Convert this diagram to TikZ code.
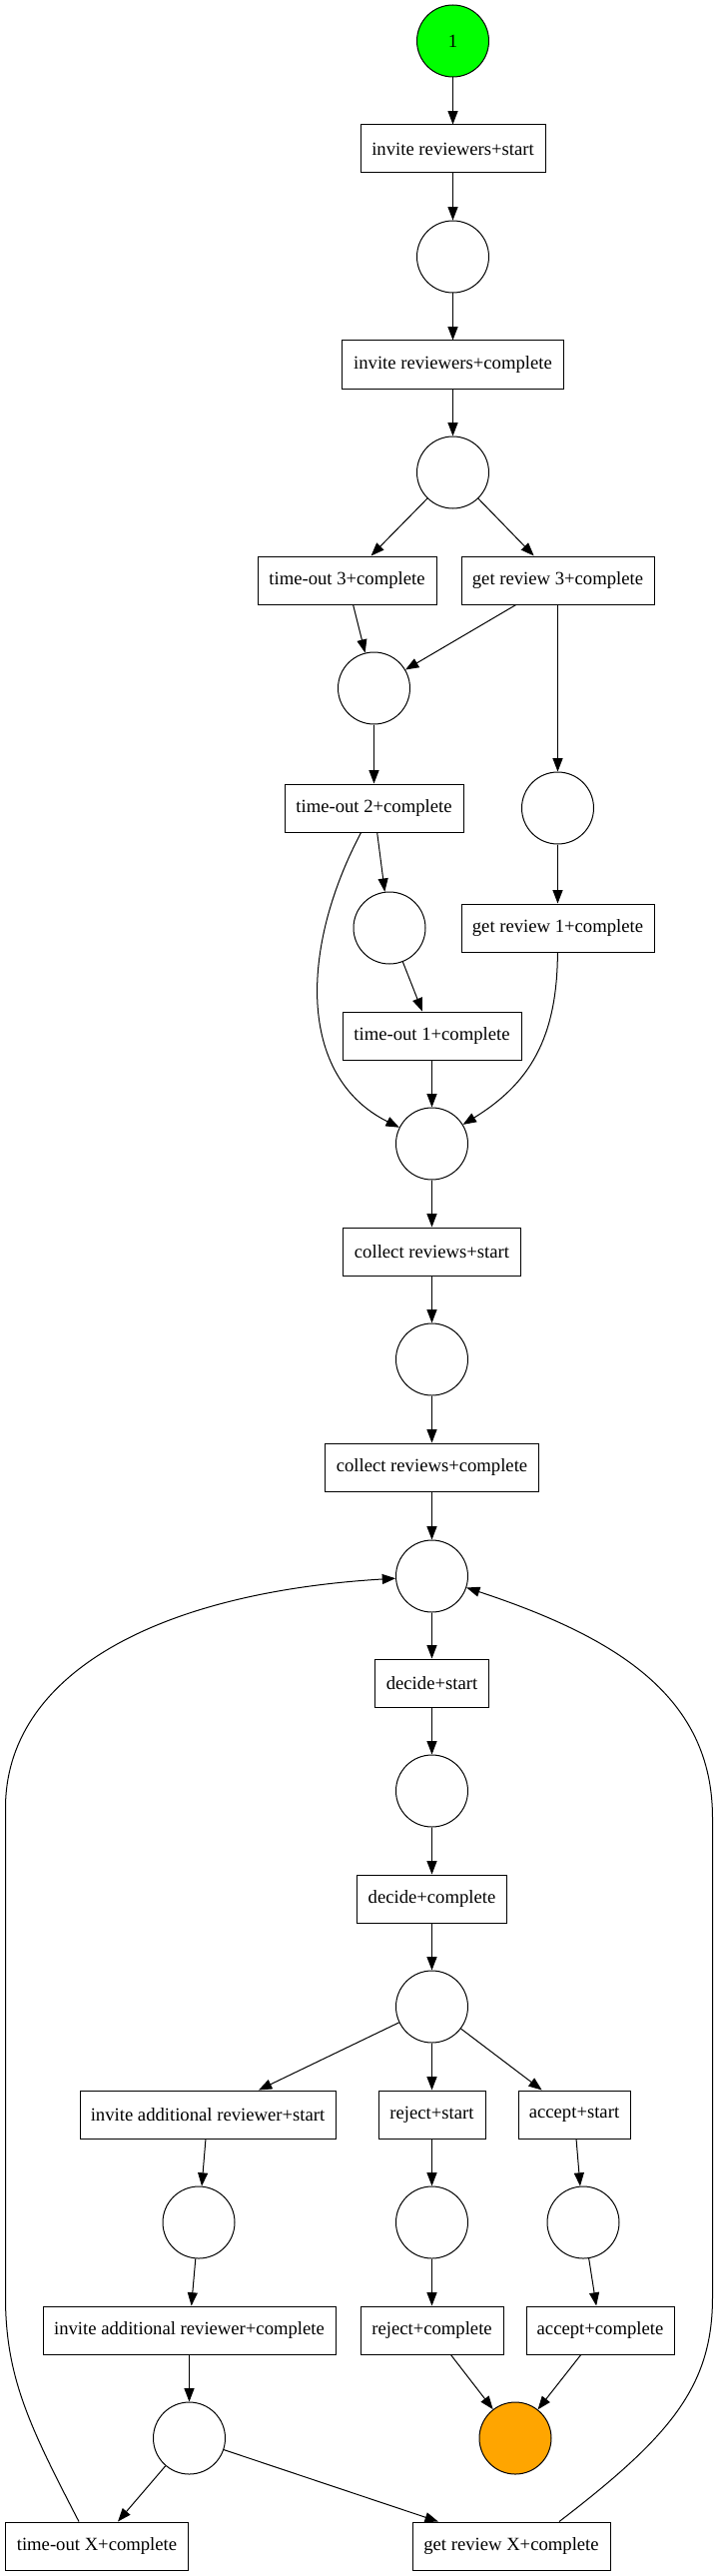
\documentclass[tikz,border=0pt]{standalone}
\usepackage{fontspec}
\setmainfont{Liberation Serif}
\usetikzlibrary{arrows.meta}
\definecolor{startgreen}{RGB}{0,255,0}
\definecolor{endorange}{RGB}{255,165,0}
\begin{document}
\begin{tikzpicture}[x=0.75pt,y=-0.75pt,
  place/.style={circle,draw,line width=0.75pt,minimum size=54pt,inner sep=0pt,fill=white,font=\fontsize{14pt}{16pt}\selectfont},
  trans/.style={rectangle,draw,line width=0.75pt,minimum height=36pt,inner sep=0pt,fill=white,font=\fontsize{14pt}{16pt}\selectfont},
  bw/.style={minimum width=#1*0.75pt},
  arc/.style={-{Triangle[length=10pt,width=7.5pt]},line width=0.75pt}]
\useasboundingbox (0,0) rectangle (719,2579);
\fill[white] (0,0) rectangle (719,2579);

% nodes
\node[place,fill=startgreen] (S) at (453.5,41) {1};
\node[trans,bw=185] (T1) at (453.5,149) {invite reviewers+start};
\node[place] (P2) at (453.5,257) {};
\node[trans,bw=222] (T2) at (453.5,365) {invite reviewers+complete};
\node[place] (P3) at (453.5,473) {};
\node[trans,bw=179] (T3) at (347.5,581) {time-out 3+complete};
\node[trans,bw=193] (T4) at (558.5,581) {get review 3+complete};
\node[place] (P4) at (374.5,689) {};
\node[trans,bw=179] (T5) at (374.5,809) {time-out 2+complete};
\node[place] (P5) at (558.5,809) {};
\node[place] (P6) at (390,929) {};
\node[trans,bw=193] (T6) at (558.5,929) {get review 1+complete};
\node[trans,bw=179] (T7) at (432.5,1037) {time-out 1+complete};
\node[place] (P7) at (432.5,1145) {};
\node[trans,bw=178] (T8) at (432.5,1253) {collect reviews+start};
\node[place] (P8) at (432.5,1361) {};
\node[trans,bw=214] (T9) at (432.5,1469) {collect reviews+complete};
\node[place] (P9) at (432.5,1578) {};
\node[trans,bw=114] (T10) at (432.5,1685) {decide+start};
\node[place] (P10) at (432.5,1793) {};
\node[trans,bw=150] (T11) at (432.5,1901) {decide+complete};
\node[place] (P11) at (432.5,2009) {};
\node[trans,bw=256] (T12) at (208,2117) {invite additional reviewer+start};
\node[trans,bw=107] (T13) at (432.5,2117) {reject+start};
\node[trans,bw=112] (T14) at (575,2117) {accept+start};
\node[place] (P12) at (199,2225) {};
\node[place] (P13) at (432.5,2225) {};
\node[place] (P14) at (584,2225) {};
\node[trans,bw=293] (T15) at (189.5,2333) {invite additional reviewer+complete};
\node[trans,bw=143] (T16) at (432.5,2333) {reject+complete};
\node[trans,bw=148] (T17) at (601,2333) {accept+complete};
\node[place] (P15) at (189.5,2441) {};
\node[place,fill=endorange] (E) at (516,2441) {};
\node[trans,bw=183] (T18) at (97,2549) {time-out X+complete};
\node[trans,bw=198] (T19) at (512,2549) {get review X+complete};

% straight arcs
\draw[arc] (S) -- (T1);
\draw[arc] (T1) -- (P2);
\draw[arc] (P2) -- (T2);
\draw[arc] (T2) -- (P3);
\draw[arc] (P3) -- (T3);
\draw[arc] (P3) -- (T4);
\draw[arc] (T3) -- (P4);
\draw[arc] (T4) -- (P4);
\draw[arc] (T4) -- (P5);
\draw[arc] (P4) -- (T5);
\draw[arc] (T5) -- (P6);
\draw[arc] (P5) -- (T6);
\draw[arc] (P6) -- (T7);
\draw[arc] (T7) -- (P7);
\draw[arc] (P7) -- (T8);
\draw[arc] (T8) -- (P8);
\draw[arc] (P8) -- (T9);
\draw[arc] (T9) -- (P9);
\draw[arc] (P9) -- (T10);
\draw[arc] (T10) -- (P10);
\draw[arc] (P10) -- (T11);
\draw[arc] (T11) -- (P11);
\draw[arc] (P11) -- (T12);
\draw[arc] (P11) -- (T13);
\draw[arc] (P11) -- (T14);
\draw[arc] (T12) -- (P12);
\draw[arc] (T13) -- (P13);
\draw[arc] (T14) -- (P14);
\draw[arc] (P12) -- (T15);
\draw[arc] (P13) -- (T16);
\draw[arc] (P14) -- (T17);
\draw[arc] (T15) -- (P15);
\draw[arc] (T16) -- (E);
\draw[arc] (T17) -- (E);
\draw[arc] (P15) -- (T18);
\draw[arc] (P15) -- (T19);

% curved arcs
\draw[arc] (T5) .. controls (300,950) and (298,1078) .. (P7);
\draw[arc] (T6) .. controls (558,1040) and (530,1085) .. (P7);
\draw[arc] ([xshift=-13.5pt]T18.north) .. controls (30,2430) and (5.5,2380) .. (5.5,2300)
   -- (5.5,1810) .. controls (5.5,1680) and (150,1595) .. (P9);
\draw[arc] ([xshift=36pt]T19.north) .. controls (670,2440) and (713.5,2390) .. (713.5,2300)
   -- (713.5,1820) .. controls (713.5,1700) and (620,1640) .. (P9);
\end{tikzpicture}
\end{document}
